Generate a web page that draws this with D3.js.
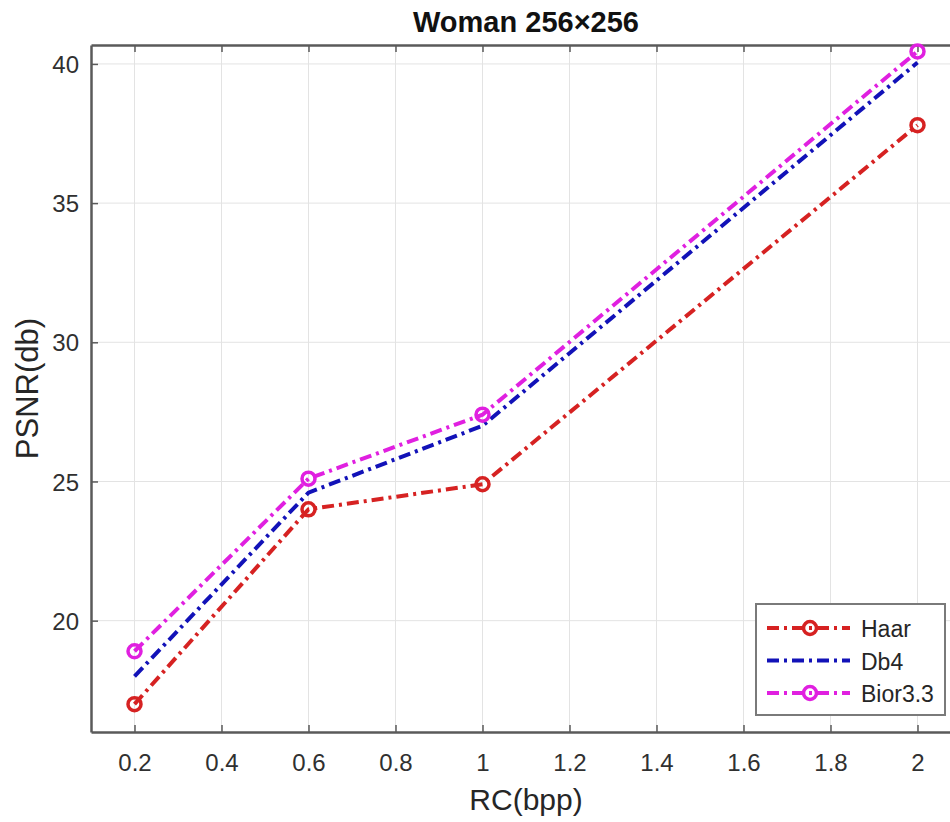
<!DOCTYPE html>
<html>
<head>
<meta charset="utf-8">
<script src="https://cdn.jsdelivr.net/npm/d3@7"></script>
<style>
  body { margin: 0; background: #fff; }
  svg { display: block; font-family: "Liberation Sans", Arial, sans-serif; }
</style>
</head>
<body>
<div id="chart"></div>
<script>
// data
const rates = [0.2, 0.6, 1, 2];
const haar = [17.0, 24.0, 24.9, 37.8];
const db4 = [18.0, 24.6, 27.0, 40.05];
const bior = [18.9, 25.1, 27.4, 40.45];
const xTicks = [0.2, 0.4, 0.6, 0.8, 1, 1.2, 1.4, 1.6, 1.8, 2];
const yTicks = [20, 25, 30, 35, 40];

const series = [
  { name: "Haar", values: haar, color: "#d62222", marker: true },
  { name: "Db4", values: db4, color: "#1212b8", marker: false },
  { name: "Bior3.3", values: bior, color: "#e020e0", marker: true }
];

const width = 950, height = 822;
// right edge of the axes box falls outside the picture, as in the reference
const margin = { top: 45, right: -11, bottom: 90, left: 91 };
const innerWidth = width - margin.left - margin.right;
const innerHeight = height - margin.top - margin.bottom;
const fontFamily = "'Liberation Sans', Arial, sans-serif";

const svg = d3.select("#chart").append("svg")
  .attr("width", width)
  .attr("height", height);

const chart = svg.append("g").attr("transform", `translate(${margin.left},${margin.top})`);

const x = d3.scaleLinear().domain([0.1, 2.1]).range([0, innerWidth]);
const y = d3.scaleLinear().domain([16, 40.68]).range([innerHeight, 0]);

// grid
chart.append("g")
  .selectAll("line")
  .data(xTicks)
  .join("line")
    .attr("x1", d => x(d)).attr("x2", d => x(d))
    .attr("y1", 0).attr("y2", innerHeight)
    .attr("stroke", "#e3e3e3").attr("stroke-width", 1);

chart.append("g")
  .selectAll("line")
  .data(yTicks)
  .join("line")
    .attr("x1", 0).attr("x2", innerWidth)
    .attr("y1", d => y(d)).attr("y2", d => y(d))
    .attr("stroke", "#e3e3e3").attr("stroke-width", 1);

// axes (ticks pointing inward, like matlab)
const xAxis = chart.append("g")
  .attr("transform", `translate(0,${innerHeight})`)
  .call(d3.axisBottom(x).tickValues(xTicks).tickSizeInner(-7).tickSizeOuter(0).tickPadding(22).tickFormat(d3.format("~g")));
const xTop = chart.append("g")
  .call(d3.axisTop(x).tickValues(xTicks).tickSizeInner(-7).tickSizeOuter(0));
xTop.selectAll(".tick text").remove();
const yAxis = chart.append("g")
  .call(d3.axisLeft(y).tickValues(yTicks).tickSizeInner(-7).tickSizeOuter(0).tickPadding(12));

[xAxis, xTop, yAxis].forEach(a => {
  a.attr("font-family", fontFamily).attr("font-size", null);
  a.select(".domain").attr("stroke", "#5a5a5a").attr("stroke-width", 2.5);
  a.selectAll(".tick line").attr("stroke", "#5a5a5a").attr("stroke-width", 1.5);
  a.selectAll(".tick text").attr("fill", "#303030").style("font-size", "24px");
});
xAxis.selectAll(".tick text").attr("dy", "0.72em");
yAxis.selectAll(".tick text").attr("dy", "0.36em");

// lines
const line = d3.line()
  .x((d, i) => x(rates[i]))
  .y(d => y(d));

series.forEach(s => {
  chart.append("path")
    .datum(s.values)
    .attr("d", line)
    .attr("fill", "none")
    .attr("stroke", s.color)
    .attr("stroke-width", 4)
    .attr("stroke-dasharray", "12,5,3,5");
  if (s.marker) {
    chart.selectAll(null)
      .data(s.values)
      .join("circle")
        .attr("cx", (d, i) => x(rates[i]))
        .attr("cy", d => y(d))
        .attr("r", 6.5)
        .attr("fill", "none")
        .attr("stroke", s.color)
        .attr("stroke-width", 3.5);
  }
});

// title
svg.append("text")
  .attr("x", margin.left + innerWidth / 2)
  .attr("y", 32)
  .attr("text-anchor", "middle")
  .attr("font-weight", 700)
  .attr("fill", "#111")
  .style("font-size", "29px")
  .text("Woman 256×256");

// axis labels
svg.append("text")
  .attr("x", margin.left + innerWidth / 2)
  .attr("y", 810)
  .attr("text-anchor", "middle")
  .attr("fill", "#262626")
  .style("font-size", "30px")
  .text("RC(bpp)");

svg.append("text")
  .attr("transform", `translate(38, ${margin.top + innerHeight / 2}) rotate(-90)`)
  .attr("text-anchor", "middle")
  .attr("fill", "#262626")
  .style("font-size", "31px")
  .text("PSNR(db)");

// legend
const legend = svg.append("g").attr("transform", "translate(756,604)");
legend.append("rect")
  .attr("width", 189).attr("height", 111)
  .attr("fill", "#fff")
  .attr("stroke", "#7a7a7a").attr("stroke-width", 2);

series.forEach((s, i) => {
  const g = legend.append("g").attr("transform", `translate(0, ${24 + i * 32.5})`);
  g.append("line")
    .attr("x1", 11).attr("x2", 94)
    .attr("stroke", s.color).attr("stroke-width", 4)
    .attr("stroke-dasharray", "12,5,3,5");
  if (s.marker) {
    g.append("circle").attr("cx", 54).attr("r", 6.5)
      .attr("fill", "none").attr("stroke", s.color).attr("stroke-width", 3.5);
  }
  g.append("text")
    .attr("x", 105).attr("y", 9)
    .attr("fill", "#262626")
    .style("font-size", "23px")
    .text(s.name);
});
</script>
</body>
</html>
